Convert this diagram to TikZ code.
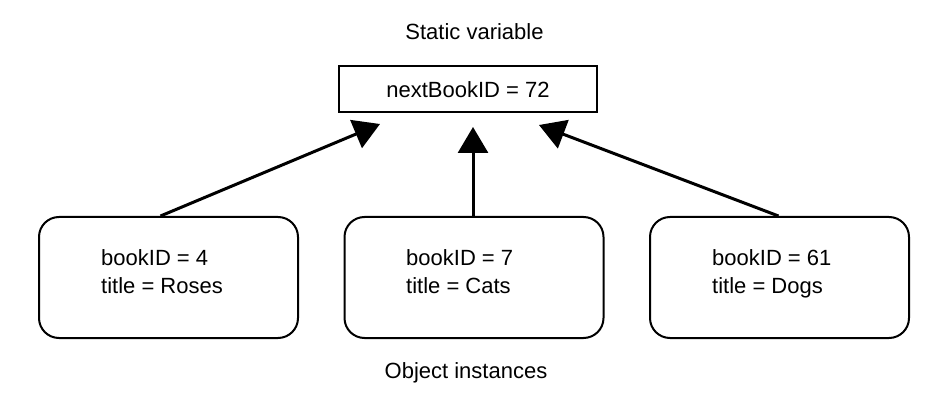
\documentclass[tikz,border=0pt]{standalone}
\usepackage{fontspec}
\setmainfont{Liberation Sans}
\usetikzlibrary{arrows.meta}
\begin{document}
\begin{tikzpicture}[x=1pt,y=-1pt,
  lbl/.style={font=\fontsize{22pt}{28pt}\selectfont, inner sep=0pt},
  statbox/.style={draw, line width=2pt, minimum width=258pt, minimum height=46pt, inner sep=0pt, font=\fontsize{22pt}{28pt}\selectfont},
  objbox/.style={draw, line width=2pt, rounded corners=20pt, minimum width=259pt, minimum height=121pt, inner sep=0pt},
  objtxt/.style={font=\fontsize{22pt}{28pt}\selectfont, align=left, inner sep=0pt, anchor=base west},
  link/.style={line width=3pt, -{Triangle[length=26pt,width=30pt]}}
]
\useasboundingbox (0,0) rectangle (934,406);
\node[lbl, anchor=base] (stat) at (474.5,40) {Static variable};
\node[statbox] (nb) at (468,89.5) {nextBookID = 72};
\node[objbox] (b1) at (168.5,277.5) {};
\node[objbox] (b2) at (474,277.5) {};
\node[objbox] (b3) at (779.5,277.5) {};
\node[objtxt] (t1) at (101,293) {bookID = 4\\title = Roses};
\node[objtxt] (t2) at (406,293) {bookID = 7\\title = Cats};
\node[objtxt] (t3) at (712,293) {bookID = 61\\title = Dogs};
\node[lbl, anchor=base] (inst) at (466,378) {Object instances};
\coordinate (tipL) at (380,124);
\coordinate (tipM) at (473,127);
\coordinate (tipR) at (539,125);
\draw[link] ([xshift=-8pt]b1.north) -- (tipL);
\draw[link] ([xshift=-1pt]b2.north) -- (tipM);
\draw[link] ([xshift=-1pt]b3.north) -- (tipR);
\end{tikzpicture}
\end{document}
